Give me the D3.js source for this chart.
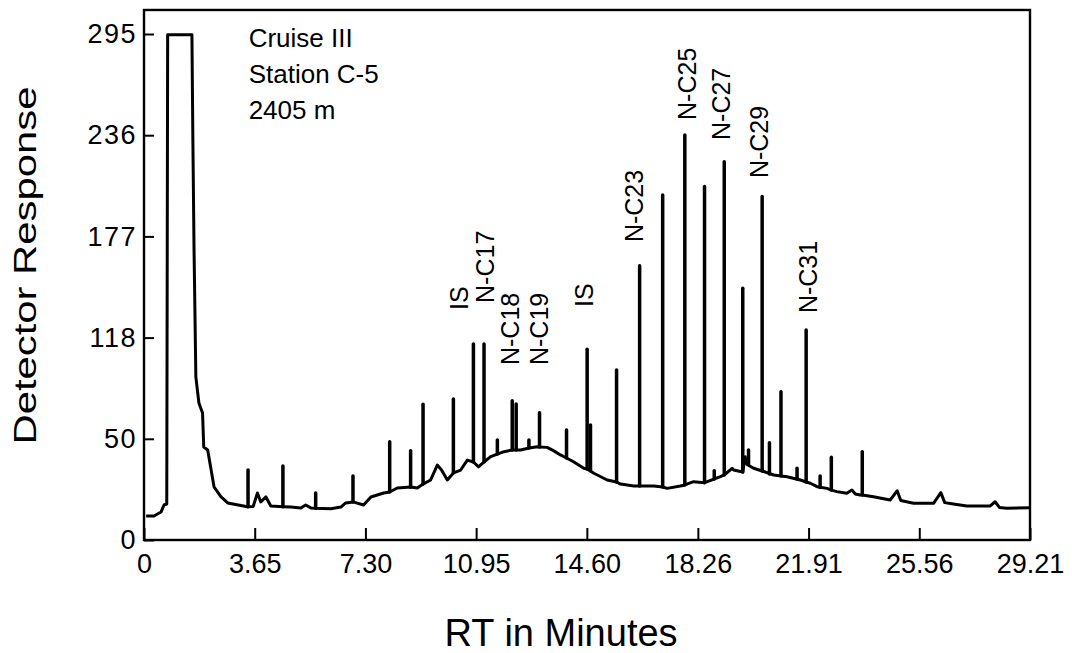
<!DOCTYPE html>
<html>
<head>
<meta charset="utf-8">
<script src="https://cdn.jsdelivr.net/npm/d3@7"></script>
<style>
  body { margin: 0; background: #fff; }
  svg { display: block; font-family: "Liberation Sans", Arial, Helvetica, sans-serif; }
</style>
</head>
<body>
<svg></svg>
<script>
const width = 1072, height = 653;

// baseline trace of the chromatogram: [RT minutes, detector response]
const trace = [
  [0.07, 14.0], [0.33, 14.0], [0.56, 16.3], [0.66, 20.4], [0.75, 21.0], [0.78, 294.5],
  [1.58, 294.5], [1.61, 235.5], [1.65, 169.1], [1.71, 95.0], [1.81, 79.9], [1.93, 74.0],
  [1.97, 54.2], [2.10, 52.5], [2.31, 30.9], [2.54, 25.1], [2.76, 21.6], [3.41, 19.4],
  [3.60, 19.6], [3.74, 27.4], [3.85, 22.2], [4.02, 25.1], [4.18, 19.8], [4.58, 19.4],
  [4.84, 19.2], [5.17, 18.7], [5.33, 20.4], [5.50, 18.7], [5.66, 18.5], [6.16, 18.2],
  [6.49, 19.2], [6.65, 21.6], [6.89, 22.2], [7.24, 20.4], [7.48, 25.1], [7.90, 27.4],
  [8.10, 28.0], [8.35, 30.3], [8.79, 30.9], [9.01, 30.3], [9.20, 32.6], [9.45, 35.0],
  [9.67, 43.7], [9.81, 40.8], [10.00, 35.0], [10.20, 39.1], [10.44, 40.8], [10.66, 46.6],
  [10.86, 45.5], [11.03, 42.6], [11.21, 45.5], [11.43, 48.6], [11.65, 50.1], [11.87, 51.5],
  [12.14, 52.5], [12.42, 52.5], [12.69, 53.6], [12.97, 54.4], [13.04, 54.2], [13.29, 54.0],
  [13.50, 52.1], [13.73, 49.6], [13.93, 47.8], [14.16, 45.6], [14.50, 41.8], [14.61, 41.4],
  [14.83, 38.9], [15.27, 35.0], [15.58, 33.8], [15.71, 32.6], [16.15, 31.5], [16.34, 31.5],
  [16.81, 31.5], [17.10, 30.9], [17.25, 30.1], [17.68, 31.5], [17.83, 32.1], [18.12, 34.0],
  [18.48, 33.4], [18.77, 35.4], [19.00, 36.9], [19.13, 37.9], [19.39, 41.8], [19.44, 40.8],
  [19.74, 39.6], [19.82, 48.6], [19.88, 44.0], [20.10, 41.8], [20.38, 40.2], [20.76, 37.9],
  [21.00, 37.3], [21.20, 36.9], [21.64, 35.0], [21.83, 33.8], [21.97, 33.1], [22.19, 31.1],
  [22.52, 30.1], [22.66, 29.1], [22.84, 28.2], [23.17, 27.2], [23.34, 29.1], [23.45, 26.8],
  [23.61, 26.2], [23.68, 26.2], [24.05, 25.2], [24.60, 23.3], [24.83, 28.7], [24.95, 23.0],
  [25.37, 21.4], [26.03, 21.4], [26.27, 27.6], [26.40, 21.8], [26.68, 21.0], [27.13, 19.8],
  [27.89, 19.8], [28.06, 22.3], [28.20, 19.0], [28.44, 18.5], [29.21, 18.8]
];

// sharp peaks: [RT, base response, top response]
const peaks = [
  [3.43, 19.4, 40.8], [4.58, 19.4, 43.1], [5.66, 18.5, 27.4], [6.89, 22.2, 37.3],
  [8.10, 28.0, 57.3], [8.79, 30.9, 52.1], [9.20, 32.6, 79.1], [10.20, 39.1, 82.2],
  [10.86, 45.5, 114.3], [11.21, 45.5, 114.3], [11.65, 50.1, 58.3], [12.14, 52.5, 81.2],
  [12.27, 52.5, 79.3], [12.69, 53.6, 58.3], [13.04, 54.2, 74.2], [13.93, 47.8, 64.1],
  [14.61, 41.4, 111.2], [14.72, 40.5, 67.0], [15.58, 33.8, 99.1], [16.34, 31.5, 159.9],
  [17.10, 30.9, 201.1], [17.83, 32.1, 236.1], [18.48, 33.4, 206.1], [18.80, 35.5, 40.4],
  [19.13, 37.9, 220.5], [19.74, 39.6, 146.7], [19.93, 44.0, 52.5], [20.38, 40.2, 200.2],
  [20.62, 38.5, 56.7], [21.00, 37.3, 86.5], [21.53, 35.5, 41.8], [21.83, 33.8, 122.4],
  [22.29, 30.6, 37.3], [22.66, 29.1, 48.2], [23.68, 26.2, 51.5]
];

// compound labels, placed above their peaks
const labelNames = ["IS", "N-C17", "N-C18", "N-C19", "IS", "N-C23", "N-C25", "N-C27", "N-C29", "N-C31"];
const labelRT    = [10.37, 11.23, 12.05, 13.01, 14.52, 16.14, 17.91, 19.03, 20.28, 21.90];
const labelLow   = [134.1, 138.2, 102.0, 102.0, 135.8, 173.7, 244.9, 233.2, 211.0, 132.3];

const xTicks = [0, 3.65, 7.30, 10.95, 14.60, 18.26, 21.91, 25.56, 29.21];
const xTickLabels = ["0", "3.65", "7.30", "10.95", "14.60", "18.26", "21.91", "25.56", "29.21"];
const yTicks = [0, 59, 118, 177, 236, 295];
const yTickLabels = ["0", "50", "118", "177", "236", "295"];

const notes = ["Cruise III", "Station C-5", "2405 m"];

const svg = d3.select("svg").attr("width", width).attr("height", height);

const x = d3.scaleLinear().domain([0, 29.21]).range([144, 1030]);
const y = d3.scaleLinear().domain([0, 295]).range([540, 34]);
const yTop = 309; // frame top, above the highest tick

// frame
svg.append("rect")
  .attr("x", x(0)).attr("y", y(yTop))
  .attr("width", x(29.21) - x(0)).attr("height", y(0) - y(yTop))
  .attr("fill", "none").attr("stroke", "#000").attr("stroke-width", 2.4);

// axes with inward ticks
const xAxis = svg.append("g")
  .attr("transform", `translate(0,${y(0)})`)
  .call(d3.axisBottom(x).tickValues(xTicks).tickFormat((d, i) => xTickLabels[i])
    .tickSizeInner(-12).tickSizeOuter(0).tickPadding(14));
xAxis.select(".domain").remove();
xAxis.selectAll("line").attr("stroke-width", 2);
xAxis.selectAll("text").attr("font-size", 27).attr("fill", "#000")
  .attr("font-family", "Liberation Sans, Arial, sans-serif");

const yAxis = svg.append("g")
  .attr("transform", `translate(${x(0)},0)`)
  .call(d3.axisLeft(y).tickValues(yTicks).tickFormat((d, i) => yTickLabels[i])
    .tickSizeInner(-10).tickSizeOuter(0).tickPadding(7));
yAxis.select(".domain").remove();
yAxis.selectAll("line").attr("stroke-width", 2);
yAxis.selectAll("text").attr("font-size", 27).attr("fill", "#000")
  .attr("letter-spacing", 1.5)
  .attr("font-family", "Liberation Sans, Arial, sans-serif");

// trace
const line = d3.line().x(d => x(d[0])).y(d => y(d[1]));
svg.append("path")
  .datum(trace)
  .attr("d", line)
  .attr("fill", "none")
  .attr("stroke", "#000")
  .attr("stroke-width", 3)
  .attr("stroke-linejoin", "round");

// sharp peaks
svg.selectAll(".peak")
  .data(peaks)
  .enter().append("line")
  .attr("class", "peak")
  .attr("x1", d => x(d[0])).attr("x2", d => x(d[0]))
  .attr("y1", d => y(d[1])).attr("y2", d => y(d[2]))
  .attr("stroke", "#000")
  .attr("stroke-width", 3.5)
  .attr("stroke-linecap", "round");

// peak labels (rotated)
svg.selectAll(".plabel")
  .data(labelNames)
  .enter().append("text")
  .attr("class", "plabel")
  .attr("transform", (d, i) => `translate(${x(labelRT[i])},${y(labelLow[i])}) rotate(-90)`)
  .attr("dy", "0.36em")
  .attr("font-size", 25)
  .text(d => d);

// station notes
svg.selectAll(".note")
  .data(notes)
  .enter().append("text")
  .attr("class", "note")
  .attr("x", x(3.45))
  .attr("y", (d, i) => y(yTop) + 37 + i * 36)
  .attr("font-size", 26)
  .text(d => d);

// axis titles
svg.append("text")
  .attr("x", x(13.75)).attr("y", 646)
  .attr("text-anchor", "middle")
  .attr("font-size", 38)
  .text("RT in Minutes");

svg.append("text")
  .attr("transform", `translate(36,${y(160)}) rotate(-90)`)
  .attr("text-anchor", "middle")
  .attr("font-size", 31)
  .attr("textLength", 358)
  .attr("lengthAdjust", "spacingAndGlyphs")
  .text("Detector Response");
</script>
</body>
</html>
